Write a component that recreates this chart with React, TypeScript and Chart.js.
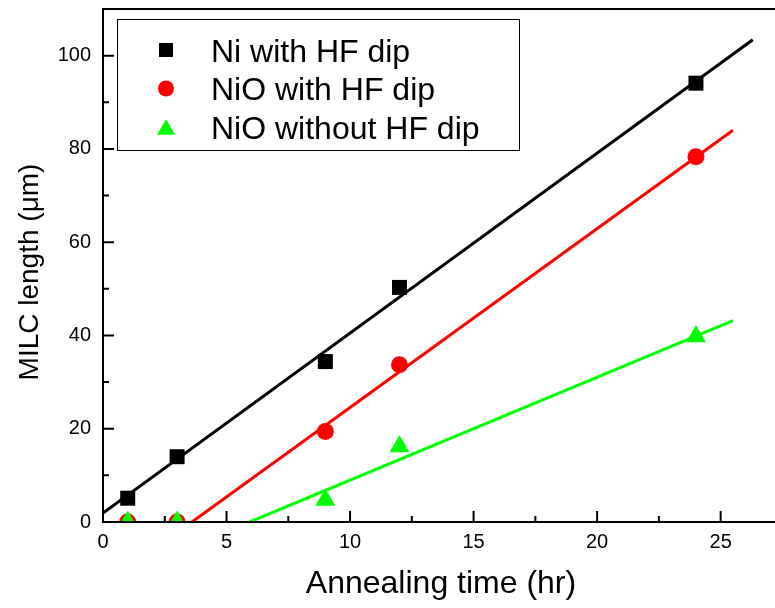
import { useEffect, useRef } from "react";
import { Chart, registerables } from "chart.js";

Chart.register(...registerables);

const FONT = '"Liberation Sans", Arial, Helvetica, sans-serif';

// Measured MILC length (µm) against annealing time (hr)
const annealHours = [1, 3, 9, 12, 24];
const niWithHF = [5.1, 14.0, 34.4, 50.3, 94.1];
const nioWithHF = [0, 0, 19.4, 33.7, 78.3];
const nioWithoutHF = [0, 0, 4.7, 16.2, 39.8];

// Linear-fit end points for each series
const niFitX = [0, 26.3];
const niFitY = [1.9, 103.4];
const nioFitX = [3.6, 25.5];
const nioFitY = [0, 84.0];
const nioNoFitX = [5.94, 25.5];
const nioNoFitY = [0, 43.2];

const seriesNames = ["Ni with HF dip", "NiO with HF dip", "NiO without HF dip"];
const seriesColors = ["#000000", "#ff0000", "#00ff00"];

const X_MIN = 0;
const X_MAX = 27.2;
const Y_MIN = 0;
const Y_MAX = 110;
const X_STEP = 5;
const Y_STEP = 20;

const xTitle = "Annealing time (hr)";
const yTitle = "MILC length (\u03bcm)";

const toPoints = (xs: number[], ys: number[]) => xs.map((x, i) => ({ x, y: ys[i] }));

function drawMarker(ctx: CanvasRenderingContext2D, shape: string, x: number, y: number, size: number, color: string) {
  ctx.save();
  ctx.fillStyle = color;
  ctx.beginPath();
  if (shape === "rect") {
    ctx.rect(x - size / 2, y - size / 2, size, size);
  } else if (shape === "circle") {
    ctx.arc(x, y, size / 2, 0, Math.PI * 2);
  } else {
    const h = size * 0.85;
    ctx.moveTo(x, y - h / 2);
    ctx.lineTo(x + size / 2, y + h / 2);
    ctx.lineTo(x - size / 2, y + h / 2);
    ctx.closePath();
  }
  ctx.fill();
  ctx.restore();
}

const framePlugin = {
  id: "originFrame",
  afterDraw(chart: any) {
    const ctx: CanvasRenderingContext2D = chart.ctx;
    const { left, right, top, bottom } = chart.chartArea;
    const xs = chart.scales.x;
    const ys = chart.scales.y;

    ctx.save();
    ctx.strokeStyle = "#000";
    ctx.lineWidth = 2;
    ctx.lineCap = "butt";

    // axis frame: left, bottom, top
    ctx.beginPath();
    ctx.moveTo(left, top);
    ctx.lineTo(left, bottom + 1);
    ctx.moveTo(left - 1, bottom);
    ctx.lineTo(right, bottom);
    ctx.moveTo(left - 1, top);
    ctx.lineTo(right, top);
    ctx.stroke();

    // inward major and minor ticks
    const major = 11;
    const minor = 6;
    const xv: number[] = xs.ticks.map((t: any) => t.value);
    ctx.beginPath();
    xv.forEach((v) => {
      const px = xs.getPixelForValue(v);
      ctx.moveTo(px, bottom);
      ctx.lineTo(px, bottom - major);
      const mid = v + X_STEP / 2;
      if (mid < X_MAX) {
        const mx = xs.getPixelForValue(mid);
        ctx.moveTo(mx, bottom);
        ctx.lineTo(mx, bottom - minor);
      }
    });
    const yv: number[] = ys.ticks.map((t: any) => t.value);
    yv.forEach((v) => {
      const py = ys.getPixelForValue(v);
      ctx.moveTo(left, py);
      ctx.lineTo(left + major, py);
      const mid = v + Y_STEP / 2;
      if (mid < Y_MAX) {
        const my = ys.getPixelForValue(mid);
        ctx.moveTo(left, my);
        ctx.lineTo(left + minor, my);
      }
    });
    ctx.stroke();

    // axis titles
    ctx.fillStyle = "#000";
    ctx.font = `32px ${FONT}`;
    ctx.textAlign = "center";
    ctx.textBaseline = "alphabetic";
    ctx.fillText(xTitle, 441, 593);

    ctx.save();
    ctx.translate(38, 272);
    ctx.rotate(-Math.PI / 2);
    ctx.font = `28px ${FONT}`;
    ctx.fillText(yTitle, 0, 0);
    ctx.restore();

    // legend
    ctx.lineWidth = 1;
    ctx.strokeStyle = "#000";
    ctx.fillStyle = "#fff";
    ctx.fillRect(117.5, 19.5, 402, 131);
    ctx.strokeRect(117.5, 19.5, 402, 131);
    const shapes = ["rect", "circle", "triangle"];
    const sizes = [14, 16, 18];
    const rows = [50, 88.5, 127];
    ctx.font = `32px ${FONT}`;
    ctx.textAlign = "left";
    ctx.textBaseline = "alphabetic";
    seriesNames.forEach((name, i) => {
      drawMarker(ctx, shapes[i], 166, rows[i], sizes[i], seriesColors[i]);
      ctx.fillStyle = "#000";
      ctx.fillText(name, 211, rows[i] + 11.5);
    });

    ctx.restore();
  },
};

export default function App() {
  const canvasRef = useRef<HTMLCanvasElement | null>(null);

  useEffect(() => {
    const canvas = canvasRef.current;
    if (!canvas) return;

    const fitLine = (xs: number[], ys: number[], color: string) => ({
      type: "line" as const,
      data: toPoints(xs, ys),
      borderColor: color,
      borderWidth: 3,
      pointRadius: 0,
      fill: false,
      tension: 0,
      order: 2,
      clip: 0,
    });

    const markers = (ys: number[], color: string, style: string, radius: number) => ({
      type: "scatter" as const,
      data: toPoints(annealHours, ys),
      backgroundColor: color,
      borderColor: color,
      borderWidth: 0,
      pointStyle: style,
      pointRadius: radius,
      pointHoverRadius: radius,
      pointBorderWidth: 0,
      showLine: false,
      order: 1,
      clip: 0,
    });

    const chart = new Chart(canvas, {
      type: "scatter",
      data: {
        datasets: [
          fitLine(niFitX, niFitY, seriesColors[0]),
          fitLine(nioFitX, nioFitY, seriesColors[1]),
          fitLine(nioNoFitX, nioNoFitY, seriesColors[2]),
          { ...markers(nioWithoutHF, seriesColors[2], "triangle", 11.5), order: 0 },
          markers(nioWithHF, seriesColors[1], "circle", 8.5),
          markers(niWithHF, seriesColors[0], "rect", 10.6),
        ] as any,
      },
      options: {
        responsive: false,
        animation: false,
        devicePixelRatio: 1,
        layout: { autoPadding: false, padding: { top: 9, right: 0, left: 0, bottom: 0 } },
        plugins: {
          legend: { display: false },
          tooltip: { enabled: false },
          title: { display: false },
        },
        scales: {
          x: {
            type: "linear",
            min: X_MIN,
            max: X_MAX,
            grid: { display: false, drawTicks: false },
            border: { display: false },
            ticks: {
              stepSize: X_STEP,
              includeBounds: false,
              color: "#000",
              padding: 8,
              maxRotation: 0,
              font: { family: FONT, size: 20 },
            },
            afterFit: (s: any) => {
              s.height = 86;
              s.paddingLeft = 0;
              s.paddingRight = 0;
            },
          },
          y: {
            type: "linear",
            min: Y_MIN,
            max: Y_MAX,
            grid: { display: false, drawTicks: false },
            border: { display: false },
            ticks: {
              stepSize: Y_STEP,
              includeBounds: false,
              color: "#000",
              padding: 12,
              font: { family: FONT, size: 20 },
            },
            afterFit: (s: any) => {
              s.width = 103;
              s.paddingTop = 0;
              s.paddingBottom = 0;
            },
          },
        },
      } as any,
      plugins: [framePlugin],
    });

    return () => chart.destroy();
  }, []);

  return (
    <div style={{ position: "fixed", left: 0, top: 0, width: 775, height: 608, background: "#fff" }}>
      <canvas ref={canvasRef} width={775} height={608} style={{ display: "block" }} />
    </div>
  );
}
